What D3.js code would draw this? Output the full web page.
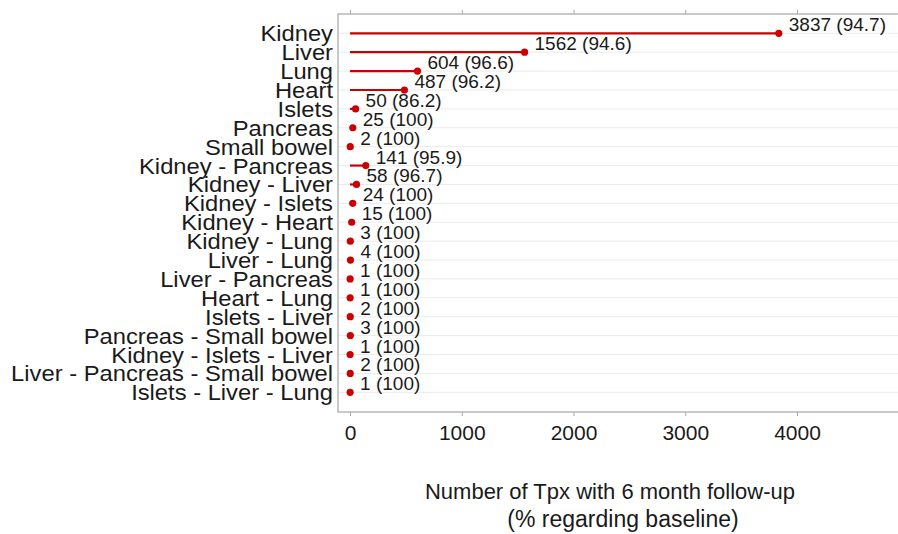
<!DOCTYPE html>
<html>
<head>
<meta charset="utf-8">
<script src="https://cdn.jsdelivr.net/npm/d3@7"></script>
<style>
  body { margin: 0; background: #fff; }
  text { font-family: "Liberation Sans", Arial, sans-serif; fill: #1a1a1a; }
</style>
</head>
<body>
<div id="chart"></div>
<script>
(function(){
  // organ combinations, top to bottom
  const categories = [
    'Kidney', 'Liver', 'Lung', 'Heart', 'Islets', 'Pancreas', 'Small bowel',
    'Kidney - Pancreas', 'Kidney - Liver', 'Kidney - Islets', 'Kidney - Heart',
    'Kidney - Lung', 'Liver - Lung', 'Liver - Pancreas', 'Heart - Lung',
    'Islets - Liver', 'Pancreas - Small bowel', 'Kidney - Islets - Liver',
    'Liver - Pancreas - Small bowel', 'Islets - Liver - Lung'
  ];
  const counts = [3837, 1562, 604, 487, 50, 25, 2, 141, 58, 24, 15, 3, 4, 1, 1, 2, 3, 1, 2, 1];
  const percents = ['94.7', '94.6', '96.6', '96.2', '86.2', '100', '100', '95.9', '96.7', '100',
    '100', '100', '100', '100', '100', '100', '100', '100', '100', '100'];
  const xTicks = [0, 1000, 2000, 3000, 4000];

  const data = categories.map((c, i) => ({ label: c, count: counts[i], pct: percents[i] }));

  const width = 898;
  const height = 534;
  const panel = { left: 338, top: 14, right: 905, bottom: 412 };

  const svg = d3.select('#chart')
    .append('svg')
    .attr('width', width)
    .attr('height', height);

  const x = d3.scaleLinear()
    .domain([0, 4000])
    .range([350, 797]);
  const y = d3.scalePoint()
    .domain(categories)
    .range([33.3, 392.3]);

  // grid lines
  svg.append('g')
    .selectAll('line')
    .data(categories)
    .enter().append('line')
    .attr('x1', panel.left)
    .attr('x2', panel.right)
    .attr('y1', d => y(d))
    .attr('y2', d => y(d))
    .attr('stroke', '#ebebeb')
    .attr('stroke-width', 1);

  // panel border
  svg.append('rect')
    .attr('x', panel.left)
    .attr('y', panel.top)
    .attr('width', panel.right - panel.left)
    .attr('height', panel.bottom - panel.top)
    .attr('fill', 'none')
    .attr('stroke', '#a6a6a6')
    .attr('stroke-width', 1.2);

  // bottom axis
  const xAxis = svg.append('g')
    .attr('transform', 'translate(0,' + panel.bottom + ')')
    .call(d3.axisBottom(x).tickValues(xTicks).tickSize(4).tickPadding(9).tickFormat(d3.format('d')));
  xAxis.select('.domain').remove();
  xAxis.selectAll('line').attr('stroke', '#a6a6a6');
  xAxis.selectAll('text')
    .style('font-size', '21px')
    .style('font-family', '"Liberation Sans", Arial, sans-serif')
    .attr('fill', '#1a1a1a');

  // top tick marks, no labels
  const topAxis = svg.append('g')
    .attr('transform', 'translate(0,' + panel.top + ')')
    .call(d3.axisTop(x).tickValues(xTicks).tickSize(4).tickFormat(''));
  topAxis.select('.domain').remove();
  topAxis.selectAll('line').attr('stroke', '#a6a6a6');

  // y labels (slightly stretched, like the original)
  svg.append('g')
    .selectAll('text')
    .data(categories)
    .enter().append('text')
    .attr('transform', d => 'translate(333,' + (y(d) + 8) + ') scale(1.08,1)')
    .attr('text-anchor', 'end')
    .style('font-size', '22px')
    .text(d => d);

  // lollipops
  const rows = svg.append('g')
    .selectAll('g')
    .data(data)
    .enter().append('g');

  rows.append('line')
    .attr('x1', x(0))
    .attr('x2', d => x(d.count))
    .attr('y1', d => y(d.label))
    .attr('y2', d => y(d.label))
    .attr('stroke', '#cc0000')
    .attr('stroke-width', 2.2);

  rows.append('circle')
    .attr('cx', d => x(d.count))
    .attr('cy', d => y(d.label))
    .attr('r', 3.6)
    .attr('fill', '#cc0000');

  rows.append('text')
    .attr('x', d => x(d.count) + 10)
    .attr('y', d => y(d.label) - 2)
    .style('font-size', '19px')
    .text(d => d.count + ' (' + d.pct + ')');

  // axis title, two lines
  svg.append('text')
    .attr('x', 610)
    .attr('y', 499)
    .attr('text-anchor', 'middle')
    .style('font-size', '22px')
    .text('Number of Tpx with 6 month follow-up');
  svg.append('text')
    .attr('x', 623)
    .attr('y', 527)
    .attr('text-anchor', 'middle')
    .style('font-size', '23px')
    .text('(% regarding baseline)');
})();
</script>
</body>
</html>
